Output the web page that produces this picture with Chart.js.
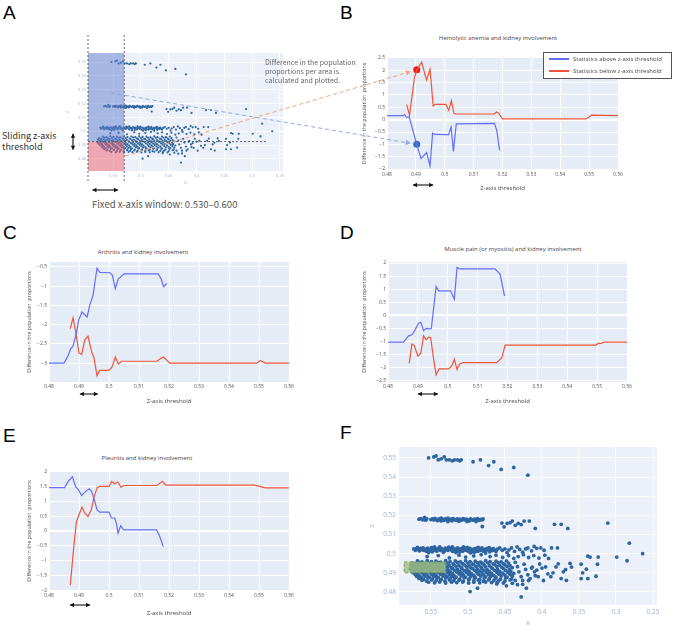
<!DOCTYPE html>
<html>
<head>
<meta charset="utf-8">
<script src="https://cdn.jsdelivr.net/npm/chart.js@4.4.0/dist/chart.umd.min.js"></script>
<style>
  body { margin: 0; background: #fff; }
  #page { position: relative; width: 676px; height: 644px; overflow: hidden; font-family: "Open Sans", sans-serif; }
  #page canvas { position: absolute; }
  .letter { position: absolute; font: 19px "Liberation Sans", Arial, sans-serif; line-height: 1; color: #000; }
  .ttl { position: absolute; transform: translate(-50%, -50%); font-size: 6px; color: #444; white-space: nowrap; }
  .note { position: absolute; font-family: "Noto Sans CJK JP", "Noto Sans", sans-serif; white-space: nowrap; }
  #legendB { position: absolute; left: 543px; top: 52px; width: 127px; height: 25px; border: 1px solid #555; background: #fff; }
  #legendB div { position: relative; height: 12px; font-size: 6px; color: #444; line-height: 12px; padding-left: 29px; }
  #legendB i { position: absolute; display: block; left: 5px; top: 5px; width: 20px; height: 2px; }
</style>
</head>
<body>
<div id="page">
  <div class="letter" style="left:3px;top:3px">A</div>
  <div class="letter" style="left:340px;top:3px">B</div>
  <div class="letter" style="left:3px;top:223px">C</div>
  <div class="letter" style="left:340px;top:223px">D</div>
  <div class="letter" style="left:3px;top:426px">E</div>
  <div class="letter" style="left:340px;top:423px">F</div>

  <div class="ttl" style="left:498px;top:38px">Hemolytic anemia and kidney involvement</div>
  <div class="ttl" style="left:143px;top:252px">Arthritis and kidney involvement</div>
  <div class="ttl" style="left:513px;top:249px">Muscle pain (or myositis) and kidney involvement</div>
  <div class="ttl" style="left:147px;top:458px">Pleuritis and kidney involvement</div>

  <canvas id="chartA" width="232" height="160" style="left:60px;top:30px"></canvas>
  <canvas id="chartB" width="268" height="146" style="left:357px;top:50px"></canvas>
  <canvas id="chartC" width="276" height="155" style="left:20px;top:255px"></canvas>
  <canvas id="chartD" width="277" height="155" style="left:357px;top:255px"></canvas>
  <canvas id="chartE" width="276" height="158" style="left:20px;top:464px"></canvas>
  <canvas id="chartF" width="304" height="192" style="left:360px;top:440px"></canvas>
  <div id="legendB"></div>

  <div class="note" style="left:265px;top:58px;font-size:7px;line-height:9px;color:#666">Difference in the population<br>proportions per area is<br>calculated and plotted.</div>
  <div class="note" style="left:2px;top:130px;font-size:9px;line-height:11px;color:#333">Sliding z-axis<br>threshold</div>
  <div class="note" style="left:92px;top:198px;font-size:9.5px;line-height:12px;color:#555">Fixed x-axis window: 0.530–0.600</div>

  <canvas id="overlay" width="676" height="644" style="left:0;top:0;pointer-events:none"></canvas>
</div>

<script>
// ---- threshold curves (x = z-axis threshold) ----
const legendLabels = ["Statistics above z-axis threshold", "Statistics below z-axis threshold"];
const lineColors = ["#636EFA", "#EF553B"];
const thrTicks = [0.48, 0.49, 0.5, 0.51, 0.52, 0.53, 0.54, 0.55, 0.56];

// B: hemolytic anemia
const bAboveX = [0.480, 0.4855, 0.4861, 0.4867, 0.4877, 0.4903, 0.4918, 0.4937, 0.4949, 0.4958, 0.4967, 0.5005, 0.5013, 0.5022, 0.5030, 0.5040, 0.5172, 0.5180, 0.5190];
const bAboveY = [0.16, 0.16, 0.21, 0.1, 0.1, -1.0, -1.58, -1.33, -1.87, -0.55, -0.6, -0.61, -0.62, -0.3, -1.29, -0.17, -0.15, -0.43, -1.24];
const bBelowX = [0.4868, 0.4878, 0.4895, 0.4903, 0.4920, 0.4937, 0.4949, 0.4960, 0.4967, 0.5004, 0.5014, 0.5023, 0.5032, 0.5040, 0.5172, 0.5179, 0.5186, 0.5200, 0.5490, 0.5508, 0.5600];
const bBelowY = [0.61, 0.18, 1.69, 2.02, 2.33, 1.6, 2.05, 0.55, 0.62, 0.62, 0.38, 0.77, 0.25, 0.23, 0.23, 0.31, 0.27, 0.03, 0.03, 0.18, 0.16];
const bDotX = [0.4903, 0.4903];
const bDotY = [2.02, -1.0];
const bTicks = [-2, -1.5, -1, -0.5, 0, 0.5, 1, 1.5, 2, 2.5];

// C: arthritis
const cAboveX = [0.480, 0.485, 0.4864, 0.4872, 0.488, 0.4891, 0.4899, 0.491, 0.4927, 0.4936, 0.4947, 0.496, 0.4969, 0.5003, 0.5011, 0.5021, 0.5031, 0.5038, 0.505, 0.5164, 0.5173, 0.5182, 0.5192];
const cAboveY = [-3.0, -3.0, -2.8, -2.63, -2.56, -2.23, -1.88, -1.67, -1.8, -1.49, -1.23, -0.53, -0.64, -0.65, -0.71, -1.06, -0.8, -0.77, -0.68, -0.68, -0.8, -1.01, -0.93];
const cBelowX = [0.4871, 0.488, 0.4889, 0.490, 0.4909, 0.492, 0.493, 0.4942, 0.495, 0.496, 0.4969, 0.500, 0.501, 0.5021, 0.5031, 0.5042, 0.5159, 0.5181, 0.5203, 0.5493, 0.5504, 0.5521, 0.560];
const cBelowY = [-2.1, -1.82, -2.19, -2.74, -2.77, -2.38, -2.3, -2.7, -2.86, -3.33, -3.19, -3.19, -3.1, -2.84, -3.02, -2.95, -2.95, -2.84, -3.0, -3.0, -2.93, -3.0, -3.0];
const cTicks = [-3, -2.5, -2, -1.5, -1, -0.5];

// D: muscle pain
const dAboveX = [0.480, 0.4852, 0.4869, 0.488, 0.4888, 0.4902, 0.491, 0.4919, 0.4928, 0.4939, 0.4945, 0.4961, 0.4969, 0.5009, 0.5014, 0.5022, 0.5031, 0.504, 0.5158, 0.5175, 0.519];
const dAboveY = [-1.02, -1.02, -0.78, -0.74, -0.61, -0.3, -0.26, -0.58, -0.49, -0.51, -0.5, 1.11, 0.94, 0.94, 0.83, 0.62, 1.83, 1.78, 1.78, 1.58, 0.75];
const dBelowX = [0.4871, 0.488, 0.4888, 0.490, 0.491, 0.4919, 0.4928, 0.4936, 0.4943, 0.4952, 0.4961, 0.4971, 0.5003, 0.5014, 0.5022, 0.5031, 0.504, 0.5051, 0.5164, 0.5181, 0.5192, 0.5497, 0.5504, 0.5514, 0.5522, 0.560];
const dBelowY = [-1.83, -1.09, -1.15, -1.55, -1.44, -0.78, -0.93, -0.83, -0.85, -1.62, -2.27, -2.04, -2.04, -1.92, -1.67, -2.06, -1.85, -1.8, -1.8, -1.61, -1.13, -1.13, -1.06, -1.07, -1.02, -1.02];
const dTicks = [-2.5, -2, -1.5, -1, -0.5, 0, 0.5, 1, 1.5, 2];

// E: pleuritis
const eAboveX = [0.480, 0.4852, 0.4864, 0.4878, 0.4889, 0.4898, 0.4909, 0.4923, 0.4934, 0.4942, 0.4951, 0.496, 0.4969, 0.500, 0.5008, 0.5019, 0.5025, 0.503, 0.5039, 0.5049, 0.5158, 0.5167, 0.5181];
const eAboveY = [1.47, 1.47, 1.68, 1.83, 1.49, 1.4, 1.2, 1.35, 1.43, 1.34, 1.06, 0.72, 0.64, 0.64, 0.44, 0.44, 0.24, -0.07, 0.18, 0.04, 0.04, -0.13, -0.53];
const eBelowX = [0.4871, 0.4882, 0.4891, 0.490, 0.491, 0.4919, 0.493, 0.4941, 0.495, 0.496, 0.4969, 0.500, 0.5009, 0.5018, 0.5029, 0.504, 0.5049, 0.516, 0.5178, 0.5189, 0.5482, 0.5499, 0.5521, 0.560];
const eBelowY = [-1.83, -0.6, 0.29, 0.55, 0.81, 0.61, 0.49, 0.72, 1.14, 1.46, 1.51, 1.51, 1.68, 1.6, 1.66, 1.48, 1.54, 1.54, 1.68, 1.55, 1.55, 1.52, 1.46, 1.46];
const eTicks = [-2, -1.5, -1, -0.5, 0, 0.5, 1, 1.5, 2];

// ---- x/z scatter (panels A and F) ----
const xTicks = [0.55, 0.5, 0.45, 0.4, 0.35, 0.3, 0.25];
const zTicks = [0.48, 0.49, 0.5, 0.51, 0.52, 0.53, 0.54, 0.55];

const topRow = [[.553,.550],[.546,.5505],[.543,.551],[.540,.549],[.536,.5495],[.532,.5505],[.529,.549],[.525,.549],[.521,.5485],[.518,.549],[.514,.549],[.511,.5485],[.509,.549],[.493,.548],[.483,.549],[.472,.546],[.465,.548],[.455,.544],[.438,.545],[.419,.541]];

const row518 = [[.566,.5180],[.5635,.5183],[.561,.5177],[.5585,.5190],[.557,.5175],[.5555,.5182],[.550,.5178],[.548,.5181],[.546,.5176],[.5445,.5184],[.543,.5179],[.541,.5173],[.539,.5182],[.5375,.5177],[.536,.5186],[.534,.5179],[.532,.5174],[.5305,.5181],[.529,.5178],[.527,.5185],[.525,.5176],[.523,.5180],[.5215,.5172],[.520,.5183],[.518,.5178],[.516,.5175],[.5145,.5182],[.513,.5177],[.511,.5180],[.509,.5174],[.5075,.5179],[.506,.5183],[.504,.5176],[.502,.5180],[.500,.5177],[.498,.5172],[.4965,.5181],[.495,.5178],[.493,.5175],[.491,.5180],[.489,.5177],[.487,.5183],[.485,.5174],[.483,.5179],[.481,.5176],[.4795,.5181],[.4805,.5142],[.527,.5168],[.512,.5169],[.501,.5168],[.536,.5171],[.489,.5168]];
const row518Sparse = [[.454,.5160],[.451,.5140],[.447,.5158],[.443,.5162],[.440,.5170],[.436,.5148],[.432,.5158],[.428,.5152],[.424,.5170],[.417,.5170],[.409,.5132],[.383,.5153],[.374,.5153],[.365,.5132],[.311,.5160]];

const row502 = [[.573,.5025],[.571,.5018],[.569,.5028],[.567,.5021],[.5655,.5015],[.564,.5027],[.562,.5020],[.5605,.5030],[.559,.5017],[.557,.5024],[.5555,.5012],[.554,.5029],[.552,.5022],[.5505,.5016],[.549,.5031],[.547,.5025],[.5455,.5019],[.544,.5027],[.542,.5013],[.5405,.5022],[.539,.5030],[.537,.5018],[.5355,.5026],[.534,.5021],[.532,.5014],[.5305,.5029],[.529,.5023],[.527,.5017],[.5255,.5031],[.524,.5025],[.522,.5019],[.5205,.5012],[.519,.5027],[.517,.5022],[.5155,.5016],[.514,.5030],[.512,.5024],[.5105,.5018],[.509,.5026],[.507,.5013],[.5055,.5021],[.504,.5029],[.502,.5017],[.5005,.5024],[.499,.5011],[.497,.5027],[.4955,.5020],[.494,.5014],[.492,.5025],[.4905,.5018],[.489,.5028],[.487,.5012],[.4855,.5022],[.484,.5016],[.482,.5026],[.4805,.5019],[.479,.5013],[.477,.5024],[.4755,.5017],[.474,.5027],[.472,.5021],[.4705,.5010],[.469,.5023],[.467,.5016],[.4655,.5026],[.464,.5019],[.462,.5012],[.460,.5024],[.568,.5033],[.553,.5005],[.545,.5035],[.533,.5007],[.526,.5034],[.516,.5006],[.506,.5036],[.496,.5004],[.486,.5033],[.476,.5003],[.548,.5010],[.538,.5036],[.521,.5035],[.511,.5009],[.501,.5033],[.491,.5008],[.481,.5030],[.471,.5031]];
const row502Sparse = [[.457,.5030],[.4535,.5018],[.450,.5025],[.447,.5005],[.4445,.5020],[.441,.5030],[.437,.5012],[.4335,.5035],[.430,.5022],[.426,.5008],[.422,.5025],[.419,.5030],[.414,.5015],[.4105,.5038],[.407,.5028],[.4015,.5030],[.397,.5018],[.387,.5030],[.379,.5030]];
const gapPts = [[.555,.4985],[.540,.4990],[.525,.4978],[.512,.4992],[.503,.4982],[.492,.4988],[.482,.4995],[.470,.4985],[.462,.4992],[.453,.4980],[.445,.4990],[.438,.4975],[.432,.4985],[.425,.4995],[.418,.4980],[.411,.4990],[.404,.4977],[.396,.4992],[.391,.4975]];

const band = [
  [.568,.4962],[.562,.4957],[.555,.4964],[.549,.4959],[.543,.4961],[.537,.4956],[.530,.4963],[.524,.4958],[.517,.4962],[.510,.4957],[.503,.4963],[.497,.4959],[.490,.4961],[.483,.4956],[.476,.4963],[.470,.4958],[.462,.4961],[.455,.4957],[.448,.4962],
  [.575,.4951],[.571,.4947],[.565,.4953],[.559,.4948],[.552,.4952],[.546,.4946],[.540,.4953],[.533,.4949],[.527,.4951],[.520,.4947],[.514,.4954],[.507,.4948],[.500,.4951],[.494,.4946],[.487,.4953],[.480,.4949],[.473,.4952],[.466,.4947],[.459,.4953],[.452,.4948],[.445,.4951],
  [.577,.4941],[.572,.4937],[.567,.4943],[.561,.4938],[.556,.4942],[.550,.4936],[.544,.4943],[.538,.4939],[.531,.4941],[.525,.4937],[.519,.4944],[.512,.4938],[.505,.4942],[.498,.4936],[.492,.4943],[.485,.4939],[.478,.4941],[.471,.4937],[.464,.4943],[.457,.4938],[.450,.4942],[.443,.4937],
  [.575,.4931],[.569,.4927],[.564,.4933],[.558,.4928],[.553,.4932],[.547,.4926],[.541,.4933],[.535,.4929],[.528,.4931],[.522,.4927],[.516,.4934],[.509,.4928],[.502,.4932],[.496,.4926],[.489,.4933],[.482,.4929],[.476,.4931],[.468,.4927],[.461,.4933],[.454,.4928],[.447,.4932],[.440,.4927],
  [.578,.4921],[.573,.4917],[.568,.4923],[.562,.4918],[.557,.4922],[.551,.4916],[.545,.4923],[.539,.4919],[.533,.4921],[.527,.4917],[.521,.4924],[.514,.4918],[.508,.4922],[.501,.4916],[.494,.4923],[.487,.4919],[.481,.4921],[.474,.4917],[.467,.4923],[.460,.4918],[.452,.4922],[.444,.4917],
  [.576,.4911],[.570,.4907],[.565,.4913],[.560,.4908],[.554,.4912],[.548,.4906],[.542,.4913],[.536,.4909],[.530,.4911],[.524,.4907],[.518,.4914],[.511,.4908],[.505,.4912],[.498,.4906],[.491,.4913],[.484,.4909],[.478,.4911],[.471,.4907],[.464,.4913],[.457,.4908],[.449,.4912],[.442,.4907],
  [.574,.4901],[.568,.4897],[.563,.4903],[.557,.4898],[.551,.4902],[.545,.4896],[.540,.4903],[.534,.4899],[.527,.4901],[.521,.4897],[.515,.4904],[.508,.4898],[.502,.4902],[.495,.4896],[.488,.4903],[.481,.4899],[.475,.4901],[.468,.4897],[.461,.4903],[.453,.4898],[.446,.4902],[.438,.4897],
  [.571,.4891],[.566,.4887],[.560,.4893],[.555,.4888],[.549,.4892],[.543,.4886],[.537,.4893],[.531,.4889],[.525,.4891],[.519,.4887],[.512,.4894],[.506,.4888],[.499,.4892],[.492,.4886],[.486,.4893],[.479,.4889],[.472,.4891],[.465,.4887],[.458,.4893],[.450,.4888],[.443,.4892],
  [.569,.4881],[.563,.4877],[.558,.4883],[.552,.4878],[.546,.4882],[.540,.4876],[.534,.4883],[.528,.4879],[.522,.4881],[.516,.4877],[.509,.4884],[.503,.4878],[.496,.4882],[.490,.4876],[.483,.4883],[.476,.4879],[.469,.4881],[.462,.4877],[.455,.4883],[.447,.4878],[.440,.4882],
  [.566,.4871],[.560,.4867],[.554,.4873],[.548,.4868],[.542,.4872],[.536,.4866],[.530,.4873],[.524,.4869],[.518,.4871],[.511,.4867],[.505,.4874],[.498,.4868],[.491,.4872],[.484,.4866],[.478,.4873],[.471,.4869],[.463,.4871],[.456,.4867],[.449,.4873],[.441,.4868],
  [.562,.4861],[.556,.4857],[.549,.4863],[.543,.4858],[.537,.4862],[.531,.4856],[.525,.4863],[.519,.4859],[.512,.4861],[.506,.4857],[.499,.4864],[.492,.4858],[.486,.4862],[.479,.4856],[.472,.4863],[.465,.4859],[.458,.4861],[.450,.4857],[.443,.4863],
  [.553,.4851],[.545,.4848],[.538,.4852],[.530,.4847],[.522,.4851],[.515,.4849],[.507,.4852],[.499,.4847],[.492,.4851],[.484,.4848],[.476,.4852],[.468,.4849],[.460,.4851],[.452,.4847]
];
const bandSparse = [[.436,.4955],[.433,.4932],[.431,.4905],[.428,.4880],[.426,.4860],[.424,.4945],[.422,.4918],[.419,.4890],[.416,.4870],[.414,.4925],[.413,.4930],[.410,.4905],[.409,.4885],[.407,.4914],[.405,.4880],[.403,.4946],[.400,.4925],[.398,.4860],[.395,.4931],[.392,.4895],[.388,.4880],[.385,.4900],[.381,.4931],[.378,.4947],[.374,.4870],[.371,.4905],[.368,.4917],[.367,.4861],[.362,.4949],[.360,.4930],[.347,.4945],[.347,.4870],[.345,.4900],[.340,.4919],[.338,.4987],[.338,.4870],[.335,.4982],[.327,.4882],[.325,.4945],[.324,.4982],[.299,.4982],[.285,.4963],[.282,.5055],[.264,.5000],[.421,.4820],[.426,.4840],[.428,.4774],[.436,.4860],[.448,.4832],[.461,.4842],[.487,.4820],[.497,.4802],[.440,.4845],[.433,.4838],[.418,.4860]];

// annotation values (data space)
const windowX = [0.53, 0.60];
const zThreshold = 0.4925;
const highlightX = [0.530, 0.586];
const highlightZ = [0.490, 0.4957];

Chart.defaults.font.family = "'Open Sans', 'DejaVu Sans', sans-serif";

const plotBg = {
  id: "plotBg",
  beforeDraw(chart, args, opts) {
    const a = chart.chartArea;
    chart.ctx.save();
    chart.ctx.fillStyle = opts.color;
    chart.ctx.fillRect(a.left, a.top, a.right - a.left, a.bottom - a.top);
    chart.ctx.restore();
  },
};

// translucent boxes on top of the points
const boxes = {
  id: "boxes",
  afterDatasetsDraw(chart, args, opts) {
    const { ctx, chartArea: a } = chart;
    const sx = chart.scales.x, sy = chart.scales.y;
    ctx.save();
    ctx.beginPath();
    ctx.rect(a.left, a.top, a.right - a.left, a.bottom - a.top);
    ctx.clip();
    (opts.list || []).forEach((b) => {
      const x1 = sx.getPixelForValue(b.x[0]), x2 = sx.getPixelForValue(b.x[1]);
      const y1 = sy.getPixelForValue(b.y[0]), y2 = sy.getPixelForValue(b.y[1]);
      const l = Math.min(x1, x2), t = Math.min(y1, y2), w = Math.abs(x2 - x1), h = Math.abs(y2 - y1);
      ctx.fillStyle = b.fill;
      ctx.fillRect(l, t, w, h);
      if (b.stroke) {
        ctx.setLineDash([3, 2]);
        ctx.strokeStyle = b.stroke;
        ctx.lineWidth = 1;
        ctx.strokeRect(l, t, w, h);
      }
    });
    ctx.restore();
  },
};

const num = (v) => String(Math.round(v * 1000) / 1000);
const signed = (v) => (v < 0 ? "\u2212" : "") + num(Math.abs(v));
const pts = (xs, ys) => xs.map((x, i) => ({ x: x, y: ys[i] }));

function linePanel(id, o) {
  const datasets = [
    { label: legendLabels[0], data: pts(o.above[0], o.above[1]), borderColor: lineColors[0], borderWidth: 1.2, pointRadius: 0 },
    { label: legendLabels[1], data: pts(o.below[0], o.below[1]), borderColor: lineColors[1], borderWidth: 1.2, pointRadius: 0 },
  ];
  if (o.dots) {
    datasets.push({ data: pts(o.dots[0], o.dots[1]), showLine: false, pointRadius: 3.5, borderWidth: 0,
      pointBackgroundColor: ["#ff1414", "#3a6cbf"] });
  }
  return new Chart(document.getElementById(id), {
    type: "line",
    data: { datasets: datasets },
    options: {
      responsive: false,
      animation: false,
      events: [],
      layout: { padding: { top: o.pad[0], right: o.pad[1], bottom: 0, left: 0 } },
      plugins: { legend: { display: false }, tooltip: { enabled: false }, plotBg: { color: "#E5ECF6" } },
      scales: {
        x: {
          type: "linear", min: 0.48, max: 0.56,
          afterBuildTicks: (s) => { s.ticks = thrTicks.map((v) => ({ value: v })); },
          afterFit: (s) => { s.height = o.xh; },
          grid: { color: "#fff", drawTicks: false },
          border: { display: false },
          ticks: { font: { size: 5 }, color: "#555", padding: 2, maxRotation: 0, callback: num },
          title: { display: true, text: "Z-axis threshold", font: { size: 6 }, color: "#444", padding: { top: 0, bottom: o.xt } },
        },
        y: {
          min: o.range[0], max: o.range[1],
          afterBuildTicks: (s) => { s.ticks = o.ticks.map((v) => ({ value: v })); },
          afterFit: (s) => { s.width = o.yw; },
          grid: { color: "#fff", drawTicks: false, lineWidth: (c) => (c.tick && c.tick.value === 0 ? 2 : 1) },
          border: { display: false },
          ticks: { font: { size: 5 }, color: "#555", padding: 2, callback: signed },
          title: { display: true, text: "Difference in the population  proportions", font: { size: 5.3 }, color: "#444", padding: { top: o.yt, bottom: 0 } },
        },
      },
    },
    plugins: [plotBg],
  });
}

function scatterPanel(id, o) {
  const all = [].concat(topRow, row518, row518Sparse, row502, row502Sparse, gapPts, band, bandSparse)
    .map((p) => ({ x: p[0], y: p[1] }));
  return new Chart(document.getElementById(id), {
    type: "scatter",
    data: { datasets: [{ data: all, backgroundColor: "#2d65a1", borderWidth: 0, pointRadius: o.r }] },
    options: {
      responsive: false,
      animation: false,
      events: [],
      layout: { padding: { top: o.pad[0], right: o.pad[1], bottom: 0, left: 0 } },
      plugins: { legend: { display: false }, tooltip: { enabled: false }, plotBg: { color: "#ECF0F8" }, boxes: { list: o.boxes } },
      scales: {
        x: {
          type: "linear", reverse: true, min: 0.2446, max: o.xmax,
          afterBuildTicks: (s) => { s.ticks = xTicks.map((v) => ({ value: v })); },
          afterFit: (s) => { s.height = o.xh; },
          grid: { color: "#fff", drawTicks: false },
          border: { display: false },
          ticks: { font: { size: o.fs }, color: "#9db1d8", padding: o.tp, maxRotation: 0, callback: num },
          title: { display: true, text: "x", font: { size: o.fs + 1 }, color: "#9db1d8", padding: { top: 0, bottom: o.xt } },
        },
        y: {
          min: o.zr[0], max: o.zr[1],
          afterBuildTicks: (s) => { s.ticks = zTicks.map((v) => ({ value: v })); },
          afterFit: (s) => { s.width = o.yw; },
          grid: { color: "#fff", drawTicks: false },
          border: { display: false },
          ticks: { font: { size: o.fs }, color: "#9db1d8", padding: o.tp, callback: num },
          title: { display: true, text: "z", font: { size: o.fs + 1 }, color: "#9db1d8", padding: { top: o.yt, bottom: 0 } },
        },
      },
    },
    plugins: [plotBg, boxes],
  });
}

const chartA = scatterPanel("chartA", {
  r: 1.1, fs: 4, tp: 2, pad: [23, 9], xh: 19, yw: 28, xt: 4.3, yt: 4.3, xmax: 0.595, zr: [0.4713, 0.5565],
  boxes: [
    { x: windowX, y: [zThreshold, 0.56], fill: "rgba(95,125,205,0.5)" },
    { x: windowX, y: [0.47, zThreshold], fill: "rgba(240,95,110,0.5)" },
  ],
});
const chartF = scatterPanel("chartF", {
  r: 1.9, fs: 6.5, tp: 3, pad: [7, 7], xh: 27, yw: 39, xt: 4.8, yt: 7.8, xmax: 0.593, zr: [0.4732, 0.5557],
  boxes: [{ x: highlightX, y: highlightZ, fill: "rgba(160,190,125,0.8)", stroke: "rgba(110,150,80,0.9)" }],
});

const chartB = linePanel("chartB", { above: [bAboveX, bAboveY], below: [bBelowX, bBelowY], dots: [bDotX, bDotY],
  range: [-2.04, 2.54], ticks: bTicks, pad: [7, 7], xh: 26, yw: 30, xt: 4.4, yt: 4.7 });
const chartC = linePanel("chartC", { above: [cAboveX, cAboveY], below: [cBelowX, cBelowY],
  range: [-3.49, -0.37], ticks: cTicks, pad: [7, 7], xh: 28, yw: 29, xt: 5.4, yt: 6.7 });
const chartD = linePanel("chartD", { above: [dAboveX, dAboveY], below: [dBelowX, dBelowY],
  range: [-2.54, 2.04], ticks: dTicks, pad: [7, 7], xh: 28, yw: 31, xt: 5.4, yt: 4.7 });
const chartE = linePanel("chartE", { above: [eAboveX, eAboveY], below: [eBelowX, eBelowY],
  range: [-2.03, 2.03], ticks: eTicks, pad: [7, 7], xh: 31, yw: 29, xt: 5.4, yt: 6.7 });

// legend box of panel B
const legendB = document.getElementById("legendB");
legendLabels.forEach((txt, i) => {
  const row = document.createElement("div");
  const swatch = document.createElement("i");
  swatch.style.backgroundColor = lineColors[i];
  row.appendChild(swatch);
  row.appendChild(document.createTextNode(txt));
  legendB.appendChild(row);
});

// ---- arrows and guide lines across panels ----
const ov = document.getElementById("overlay").getContext("2d");

function at(chart, x, y) {
  const c = chart.canvas;
  return [c.offsetLeft + chart.scales.x.getPixelForValue(x), c.offsetTop + chart.scales.y.getPixelForValue(y)];
}

function head(x, y, ang, size, color) {
  ov.save();
  ov.fillStyle = color;
  ov.translate(x, y);
  ov.rotate(ang);
  ov.beginPath();
  ov.moveTo(0, 0);
  ov.lineTo(-size, -size * 0.55);
  ov.lineTo(-size, size * 0.55);
  ov.closePath();
  ov.fill();
  ov.restore();
}

function dashedArrow(p, q, gap, color) {
  const ang = Math.atan2(q[1] - p[1], q[0] - p[0]);
  const tx = q[0] - gap * Math.cos(ang), ty = q[1] - gap * Math.sin(ang);
  ov.save();
  ov.strokeStyle = color;
  ov.lineWidth = 1;
  ov.setLineDash([4, 3]);
  ov.beginPath();
  ov.moveTo(p[0], p[1]);
  ov.lineTo(tx - 4 * Math.cos(ang), ty - 4 * Math.sin(ang));
  ov.stroke();
  ov.restore();
  head(tx, ty, ang, 5, color);
}

function doubleArrow(x1, y1, x2, y2) {
  const ang = Math.atan2(y2 - y1, x2 - x1);
  ov.save();
  ov.strokeStyle = "#111";
  ov.lineWidth = 1.1;
  ov.beginPath();
  ov.moveTo(x1, y1);
  ov.lineTo(x2, y2);
  ov.stroke();
  ov.restore();
  head(x2, y2, ang, 4, "#111");
  head(x1, y1, ang + Math.PI, 4, "#111");
}

// window guide lines in panel A
(function () {
  const a = chartA.chartArea;
  const cx = chartA.canvas.offsetLeft, cy = chartA.canvas.offsetTop;
  const xl = Math.max(chartA.scales.x.getPixelForValue(windowX[1]), a.left) + cx;
  const xr = chartA.scales.x.getPixelForValue(windowX[0]) + cx;
  const yt = cy + chartA.scales.y.getPixelForValue(zThreshold);
  ov.save();
  ov.strokeStyle = "#555";
  ov.lineWidth = 0.9;
  ov.setLineDash([2, 2]);
  [xl, xr].forEach((x) => {
    ov.beginPath();
    ov.moveTo(x, cy + a.top - 18);
    ov.lineTo(x, cy + a.bottom + 12);
    ov.stroke();
  });
  ov.beginPath();
  ov.moveTo(cx + a.left, yt);
  ov.lineTo(at(chartA, 0.275, zThreshold)[0], yt);
  ov.stroke();
  ov.restore();

  doubleArrow(cx + a.left - 15, yt - 8, cx + a.left - 15, yt + 8);
  const h1 = at(chartA, 0.587, zThreshold)[0], h2 = at(chartA, 0.541, zThreshold)[0];
  doubleArrow(h1, cy + a.bottom + 19, h2, cy + a.bottom + 19);
})();

// A -> B dashed arrows
dashedArrow(at(chartA, 0.5536, 0.5276), at(chartB, bDotX[1], bDotY[1]), 6, "#8ea9e0");
dashedArrow(at(chartA, 0.541, 0.4807), at(chartB, bDotX[0], bDotY[0]), 6, "#f2a275");

// window width markers under the threshold axes
[[chartB, 0.489, 0.496, 15], [chartC, 0.4903, 0.4963, 12], [chartD, 0.490, 0.4967, 12], [chartE, 0.487, 0.4937, 14]].forEach((m) => {
  const ch = m[0];
  const y = ch.canvas.offsetTop + ch.chartArea.bottom + m[3];
  doubleArrow(at(ch, m[1], 0)[0], y, at(ch, m[2], 0)[0], y);
});
</script>
</body>
</html>
